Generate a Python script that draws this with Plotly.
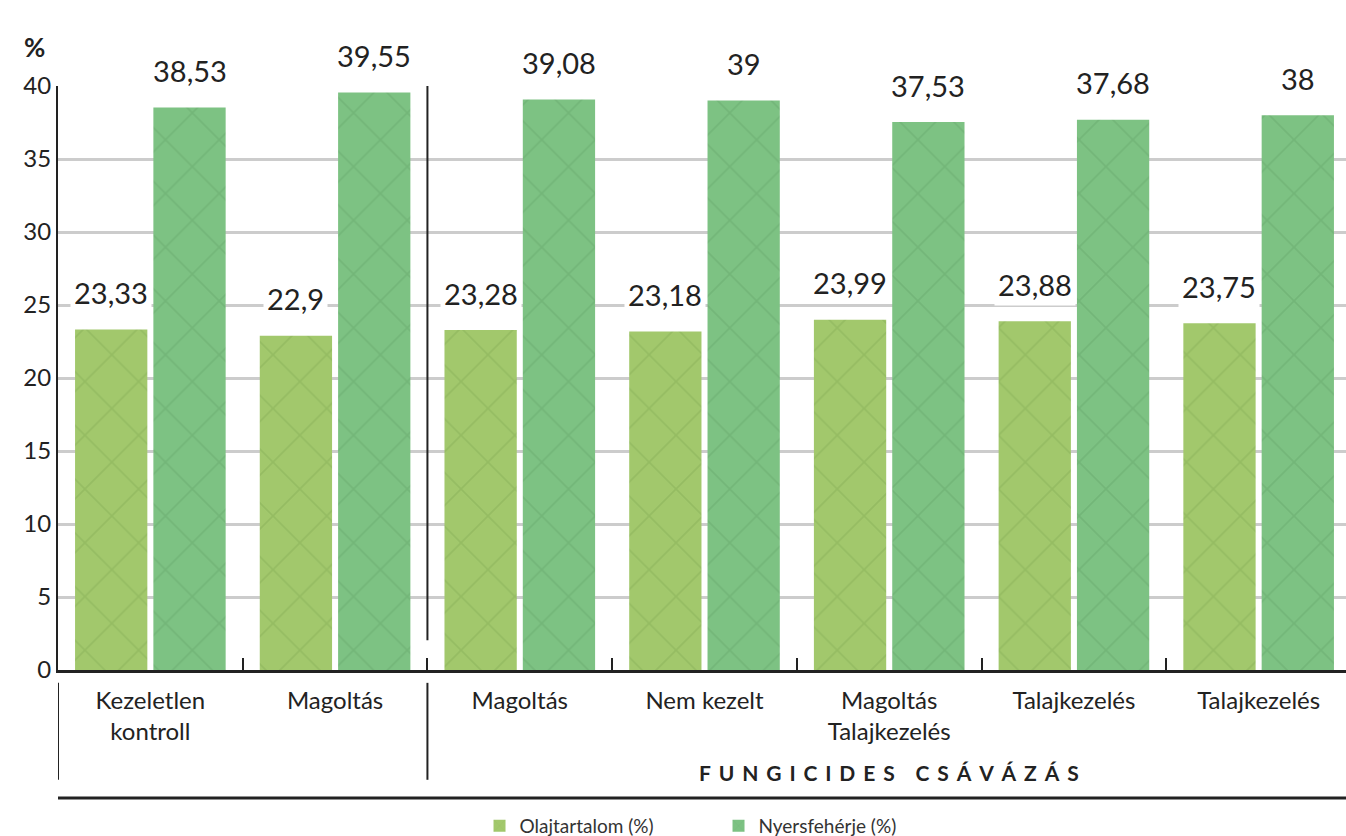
import plotly.graph_objects as go

categories = ["Kezeletlen<br>kontroll", "Magoltás", "Magoltás", "Nem kezelt",
              "Magoltás<br>Talajkezelés", "Talajkezelés", "Talajkezelés"]
olaj = [23.33, 22.9, 23.28, 23.18, 23.99, 23.88, 23.75]
nyers = [38.53, 39.55, 39.08, 39, 37.53, 37.68, 38]
series_names = ["Olajtartalom (%)", "Nyersfehérje (%)"]
y_ticks = [0, 5, 10, 15, 20, 25, 30, 35, 40]
group_title = "FUNGICIDES CSÁVÁZÁS"

FONT = "Lato"
C_OLAJ = "#a2c86c"
C_NYERS = "#7dc283"
BARGAP = 0.152
GROUPGAP = 0.077

x = list(range(len(categories)))

fig = go.Figure()
fig.add_trace(go.Bar(
    x=x, y=olaj, name=series_names[0],
    marker=dict(color=C_OLAJ, line=dict(width=0),
                pattern=dict(shape="x", fgcolor="rgba(125,165,80,0.7)", size=38, solidity=0.09)),
))
fig.add_trace(go.Bar(
    x=x, y=nyers, name=series_names[1],
    marker=dict(color=C_NYERS, line=dict(width=0),
                pattern=dict(shape="x", fgcolor="rgba(95,160,100,0.7)", size=38, solidity=0.09)),
))

fmt = lambda v: f"{v:g}".replace(".", ",")
slot = (1 - BARGAP) / 2
anns = []
for i in x:
    for vals, off in ((olaj, -slot / 2), (nyers, slot / 2)):
        anns.append(dict(x=i + off, y=vals[i], xref="x", yref="y", text=fmt(vals[i]),
                         showarrow=False, yanchor="middle", yshift=37,
                         bgcolor="white", borderpad=3,
                         font=dict(family=FONT, size=29, color="#222")))

spaced = "\u2005\u2009".join(" " if ch == " " else ch for ch in group_title)
anns.append(dict(x=4, y=-0.176, xref="x", yref="paper", yanchor="middle", text=spaced,
                 showarrow=False,
                 font=dict(family=FONT, size=21, color="#222", weight="bold")))
anns.append(dict(xref="x domain", yref="y domain", x=-0.028, y=1.098, text="%", showarrow=False,
                 font=dict(family=FONT, size=26, color="#222", weight="bold")))

shapes = [
    dict(type="line", xref="x", yref="paper", x0=1.5, x1=1.5, y0=1, y1=0.051,
         line=dict(color="#222", width=2)),
    dict(type="line", xref="x", yref="paper", x0=-0.5, x1=-0.5, y0=-0.022, y1=-0.188,
         line=dict(color="#222", width=2)),
    dict(type="line", xref="x", yref="paper", x0=1.5, x1=1.5, y0=-0.022, y1=-0.188,
         line=dict(color="#222", width=2)),
    dict(type="line", xref="x", yref="paper", x0=-0.5, x1=6.5, y0=-0.219, y1=-0.219,
         line=dict(color="#222", width=3)),
]

fig.update_layout(
    width=1351, height=836,
    margin=dict(l=58, r=0, t=86, b=166, autoexpand=False),
    paper_bgcolor="white", plot_bgcolor="white",
    barmode="group", bargap=BARGAP, bargroupgap=GROUPGAP,
    font=dict(family=FONT, color="#222"),
    annotations=anns, shapes=shapes,
    legend=dict(orientation="h", x=0.326, xanchor="left", y=-0.267, yanchor="middle",
                font=dict(family=FONT, size=19, color="#333"), itemwidth=30,
                entrywidth=194, traceorder="normal"),
    xaxis=dict(range=[-0.5, 6.5], tickvals=x, ticktext=categories, automargin=False,
               tickfont=dict(family=FONT, size=24, color="#222"), ticklabelstandoff=7,
               showline=True, linecolor="#222", linewidth=2.5, showgrid=False, zeroline=False,
               ticks="",
               minor=dict(tickvals=[i + 0.5 for i in x[:-1]], ticks="inside", ticklen=12,
                          tickcolor="#222", tickwidth=2)),
    yaxis=dict(range=[0, 40], tickvals=y_ticks, ticktext=[str(t) for t in y_ticks],
               automargin=False,
               tickfont=dict(family=FONT, size=24, color="#222"),
               showline=True, linecolor="#222", linewidth=2, showgrid=True,
               gridcolor="#cccccc", gridwidth=3, zeroline=False, ticks=""),
)

fig.write_html("out.html", config={"displayModeBar": False},
               post_script="document.body.style.margin='0';document.body.style.overflow='hidden';")
